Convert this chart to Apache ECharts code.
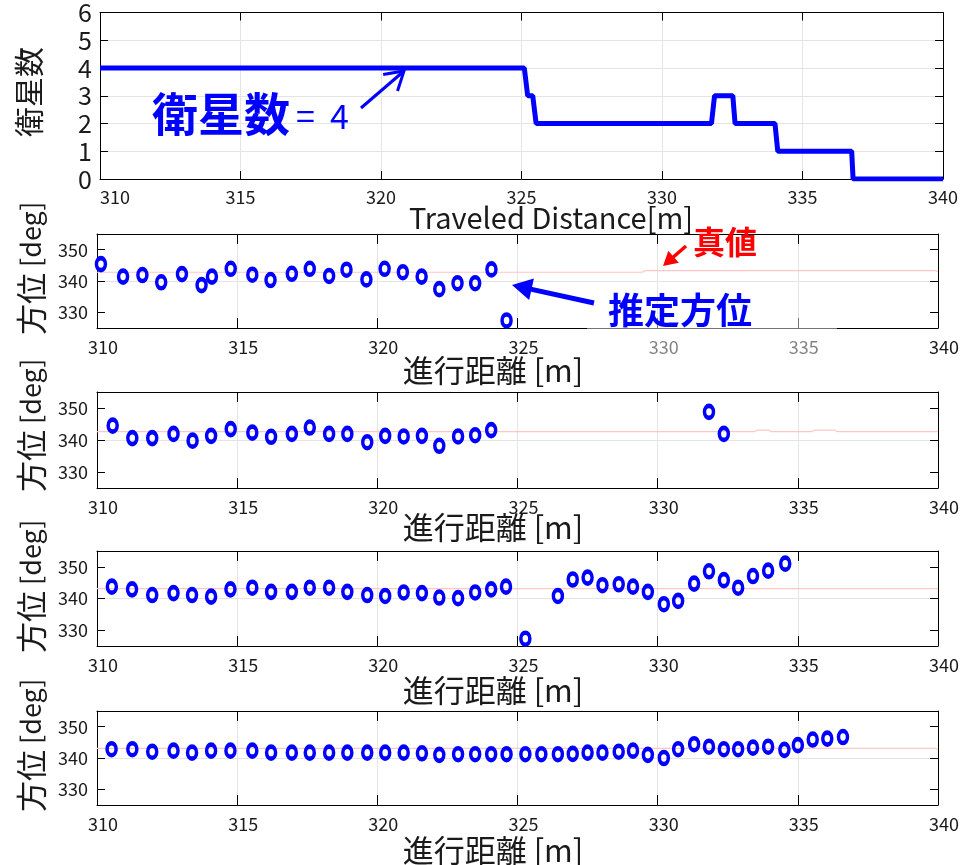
<!DOCTYPE html>
<html>
<head>
<meta charset="utf-8">
<script src="https://cdn.jsdelivr.net/npm/echarts@6/dist/echarts.min.js"></script>
<style>html,body{margin:0;padding:0;background:#fff}#c{width:962px;height:865px}</style>
</head>
<body>
<div id="c"></div>
<script>
// ---------------- data ----------------
const X_MIN = 310, X_MAX = 340, X_STEP = 5;
const SAT_MIN = 0, SAT_MAX = 6;
const AZ_MIN = 325, AZ_MAX = 355;
const azTicks = [330, 340, 350];

// number of satellites vs travelled distance
const satDist  = [310, 325.1, 325.22, 325.4, 325.52, 331.76, 331.87, 332.52, 332.6, 334.02, 334.12, 336.75, 336.8, 340];
const satCount = [4, 4, 3, 3, 2, 2, 3, 3, 2, 2, 1, 1, 0, 0];

// estimated azimuth, panel 1..4
const est1Dist = [310.14,310.93,311.62,312.29,313.03,313.73,314.10,314.77,315.54,316.19,316.95,317.59,318.28,318.90,319.61,320.26,320.91,321.58,322.21,322.86,323.49,324.07,324.61];
const est1Az   = [345.4,341.4,341.9,339.6,342.2,338.7,341.4,343.9,342.0,340.3,342.3,343.9,341.6,343.6,340.5,343.9,342.8,341.4,337.4,339.3,339.3,343.7,327.4];

const est2Dist = [310.56,311.26,311.97,312.73,313.41,314.07,314.77,315.54,316.21,316.95,317.59,318.28,318.93,319.64,320.28,320.94,321.59,322.21,322.88,323.49,324.06,331.83,332.36];
const est2Az   = [344.5,340.6,340.6,341.9,339.8,341.3,343.4,342.3,341.0,341.9,343.9,341.9,341.9,339.3,341.3,341.1,341.3,338.2,341.1,341.5,343.1,348.8,341.9];

const est3Dist = [310.53,311.25,311.97,312.73,313.39,314.07,314.76,315.54,316.21,316.95,317.59,318.28,318.93,319.64,320.28,320.94,321.59,322.21,322.88,323.49,324.06,324.59,325.28,326.44,326.97,327.50,328.03,328.61,329.12,329.65,330.22,330.73,331.30,331.83,332.36,332.87,333.40,333.94,334.55];
const est3Az   = [343.75,342.9,341.1,341.7,341.1,340.6,342.9,343.4,342.1,342.1,343.4,343.4,342.1,341.1,340.8,341.9,341.7,340.3,340.1,341.9,342.9,343.75,327.3,340.8,346.0,346.6,344.2,344.5,343.75,342.1,338.2,339.25,344.7,348.6,345.8,343.4,347.1,348.8,351.0];

const est4Dist = [310.52,311.26,311.97,312.73,313.39,314.07,314.76,315.54,316.21,316.95,317.59,318.28,318.93,319.64,320.28,320.94,321.59,322.21,322.88,323.49,324.06,324.61,325.28,325.85,326.44,326.97,327.50,328.03,328.61,329.12,329.65,330.22,330.73,331.30,331.83,332.36,332.87,333.40,333.94,334.52,335.00,335.53,336.05,336.61];
const est4Az   = [342.8,342.8,342.0,342.35,341.7,342.35,342.35,342.35,341.7,341.7,341.7,341.7,341.7,341.7,341.7,341.7,341.5,341.0,341.2,341.2,341.2,341.2,341.2,341.2,341.2,341.3,341.7,341.7,342.0,342.35,341.0,340.0,342.8,344.4,343.6,342.8,342.8,343.3,343.6,342.6,344.1,345.9,346.2,346.7];

// true azimuth (faint red line), panel 1..4
const true1Dist = [310, 329.45, 329.55, 339.9, 340];
const true1Az   = [342.8, 342.8, 343.3, 343.3, 343.0];
const true2Dist = [310, 333.45, 333.55, 333.95, 334.05, 335.5, 335.6, 336.3, 336.4, 340];
const true2Az   = [342.6, 342.6, 343.1, 343.1, 342.6, 342.6, 343.1, 343.1, 342.6, 342.6];
const true3Dist = [310, 340];
const true3Az   = [343.1, 343.1];
const true4Dist = [310, 339.9, 340];
const true4Az   = [343.1, 343.1, 342.7];

// texts
const satLabel = '衛星数';
const xTitleTop = 'Traveled Distance[m]';
const xTitle = '進行距離 [m]';
const yTitleMain = '方位';
const yTitleUnit = ' [deg]';
const annSat = '衛星数';
const annSatVal = '=  4';
const annTrue = '真値';
const annEst = '推定方位';

// ---------------- chart ----------------
const pairs = (xs, ys) => xs.map((x, i) => [x, ys[i]]);
const FONT = '"Noto Sans CJK JP", "Noto Sans", sans-serif';
const BLUE = '#0000ff', RED = '#ff0000', TXT = '#1a1a1a';

const grids = [
  {left: 100, top: 8,   width: 843, height: 171},
  {left: 97,  top: 234, width: 847, height: 94},
  {left: 97,  top: 392, width: 847, height: 96},
  {left: 97,  top: 551, width: 847, height: 95},
  {left: 97,  top: 711, width: 847, height: 94}
];

const axisLineBlack = {show: true, onZero: false, lineStyle: {color: '#000', width: 1}};
const xAxes = [], yAxes = [];
grids.forEach((g, i) => {
  const top = i === 0;
  const xt = {show: true, inside: true, length: top ? 8 : 10, lineStyle: {color: '#000'}};
  xAxes.push({
    type: 'value', gridIndex: i, min: X_MIN, max: X_MAX, interval: X_STEP, position: 'bottom',
    axisLine: axisLineBlack, axisTick: xt,
    axisLabel: {fontSize: 18, color: TXT, fontFamily: FONT, margin: top ? 9 : 10,
                alignMinLabel: top ? 'left' : 'center', padding: top ? 0 : [0, 0, 0, 12]},
    splitLine: {show: true, showMinLine: false, showMaxLine: false, lineStyle: {color: '#e4e4e4', width: 1}}
  });
  xAxes.push({
    type: 'value', gridIndex: i, min: X_MIN, max: X_MAX, interval: X_STEP, position: 'top',
    axisLine: axisLineBlack, axisTick: xt, axisLabel: {show: false}, splitLine: {show: false}
  });
  const yt = {show: true, inside: true, length: 8, lineStyle: {color: '#000'}};
  if (top) {
    yAxes.push({
      type: 'value', gridIndex: i, min: SAT_MIN, max: SAT_MAX, interval: 1, position: 'left',
      axisLine: axisLineBlack, axisTick: yt,
      axisLabel: {fontSize: 25, color: TXT, fontFamily: FONT, margin: 8},
      splitLine: {show: true, showMinLine: false, showMaxLine: false, lineStyle: {color: '#e4e4e4', width: 1}}
    });
    yAxes.push({
      type: 'value', gridIndex: i, min: SAT_MIN, max: SAT_MAX, interval: 1, position: 'right',
      axisLine: axisLineBlack, axisTick: yt, axisLabel: {show: false}, splitLine: {show: false}
    });
  } else {
    yAxes.push({
      type: 'value', gridIndex: i, min: AZ_MIN, max: AZ_MAX, position: 'left',
      axisLine: axisLineBlack, axisTick: Object.assign({customValues: azTicks}, yt),
      axisLabel: {fontSize: 18, color: TXT, fontFamily: FONT, margin: 9, customValues: azTicks},
      splitLine: {show: true, showMinLine: false, showMaxLine: false, lineStyle: {color: '#e4e4e4', width: 1}}
    });
    yAxes.push({
      type: 'value', gridIndex: i, min: AZ_MIN, max: AZ_MAX, position: 'right',
      axisLine: axisLineBlack, axisTick: Object.assign({customValues: azTicks}, yt),
      axisLabel: {show: false, customValues: azTicks}, splitLine: {show: false}
    });
  }
});

const series = [{
  type: 'line', xAxisIndex: 0, yAxisIndex: 0, data: pairs(satDist, satCount),
  showSymbol: false, symbol: 'none', lineStyle: {color: BLUE, width: 5}, z: 3
}];
const truths = [[true1Dist, true1Az], [true2Dist, true2Az], [true3Dist, true3Az], [true4Dist, true4Az]];
const ests = [[est1Dist, est1Az], [est2Dist, est2Az], [est3Dist, est3Az], [est4Dist, est4Az]];
for (let k = 0; k < 4; k++) {
  const gi = k + 1;
  series.push({
    type: 'line', xAxisIndex: gi * 2, yAxisIndex: gi * 2, data: pairs(truths[k][0], truths[k][1]),
    showSymbol: false, symbol: 'none', lineStyle: {color: '#ffc6c6', width: 1.2}, z: 2
  });
  series.push({
    type: 'scatter', xAxisIndex: gi * 2, yAxisIndex: gi * 2, data: pairs(ests[k][0], ests[k][1]),
    symbol: 'circle', symbolSize: [9, 12],
    itemStyle: {color: 'rgba(255,255,255,0)', borderColor: BLUE, borderWidth: 4, opacity: 1}, z: 4
  });
}

// ---------------- annotations ----------------
function arrow(tail, tip, w, hl, hw, color) {
  const dx = tip[0] - tail[0], dy = tip[1] - tail[1], L = Math.hypot(dx, dy);
  const ux = dx / L, uy = dy / L, nx = -uy, ny = ux;
  const bx = tip[0] - ux * hl, by = tip[1] - uy * hl;
  return [
    {type: 'line', z: 100, shape: {x1: tail[0], y1: tail[1], x2: bx + ux, y2: by + uy}, style: {stroke: color, lineWidth: w}},
    {type: 'polygon', z: 100, shape: {points: [[tip[0], tip[1]], [bx + nx * hw, by + ny * hw], [bx - nx * hw, by - ny * hw]]}, style: {fill: color}}
  ];
}
function openArrow(tail, tip, w, hl, hw, color) {
  const dx = tip[0] - tail[0], dy = tip[1] - tail[1], L = Math.hypot(dx, dy);
  const ux = dx / L, uy = dy / L, nx = -uy, ny = ux;
  const bx = tip[0] - ux * hl, by = tip[1] - uy * hl;
  return [
    {type: 'line', z: 100, shape: {x1: tail[0], y1: tail[1], x2: tip[0], y2: tip[1]}, style: {stroke: color, lineWidth: w}},
    {type: 'polyline', z: 100, shape: {points: [[bx + nx * hw, by + ny * hw], [tip[0], tip[1]], [bx - nx * hw, by - ny * hw]]}, style: {stroke: color, lineWidth: w, fill: null}}
  ];
}
function txt(x, y, text, size, opts) {
  return Object.assign({type: 'text', x: x, y: y, z: 100,
    style: Object.assign({text: text, fontSize: size, fontFamily: FONT, fill: TXT, align: 'center', verticalAlign: 'middle'}, (opts && opts.style) || {})},
    (opts && opts.el) || {});
}
const graphic = [];
// axis titles
graphic.push(txt(29, 92, satLabel, 30, {el: {rotation: Math.PI / 2}}));
graphic.push(txt(551, 218, xTitleTop, 29, {}));
[[370, 335], [527, 492], [690, 653], [850, 812]].forEach(([xy, ybottom]) => {
  graphic.push(txt(493, xy, xTitle, 31, {}));
  graphic.push({type: 'text', x: 31, y: ybottom, z: 100, rotation: Math.PI / 2, style: {
    text: '{c|' + yTitleMain + '}{l|' + yTitleUnit + '}', align: 'left', verticalAlign: 'middle',
    rich: {c: {fontSize: 31, fontFamily: FONT, fill: TXT, verticalAlign: 'middle'},
           l: {fontSize: 27, fontFamily: FONT, fill: TXT, verticalAlign: 'middle'}}}});
});
// translucent box behind the estimate label
graphic.push({type: 'rect', z: 90, shape: {x: 587, y: 318, width: 250, height: 40}, style: {fill: 'rgba(255,255,255,0.45)'}});
// satellite annotation
graphic.push({type: 'text', x: 152, y: 114, z: 100, style: {
  text: '{a|' + annSat + '}{b|' + annSatVal + '}', align: 'left', verticalAlign: 'middle',
  rich: {a: {fontSize: 46, fontWeight: 'bold', fill: BLUE, fontFamily: FONT},
         b: {fontSize: 34, fill: BLUE, fontFamily: FONT, padding: [4, 0, 0, 6]}}}});
graphic.push(...openArrow([361, 108], [404, 71], 3, 18, 11, BLUE));
// true value / estimate annotations
graphic.push(txt(725, 242, annTrue, 32, {style: {fill: RED, fontWeight: 'bold'}}));
graphic.push(...arrow([686, 246], [663, 266], 3.5, 14, 8, RED));
graphic.push(txt(680, 310, annEst, 36, {style: {fill: BLUE, fontWeight: 'bold'}}));
graphic.push(...arrow([594, 303], [512, 285], 5, 20, 11, BLUE));

const chart = echarts.init(document.getElementById('c'));
chart.setOption({
  animation: false,
  backgroundColor: '#fff',
  grid: grids.map(g => Object.assign({containLabel: false}, g)),
  xAxis: xAxes,
  yAxis: yAxes,
  series: series,
  graphic: graphic
});
</script>
</body>
</html>
